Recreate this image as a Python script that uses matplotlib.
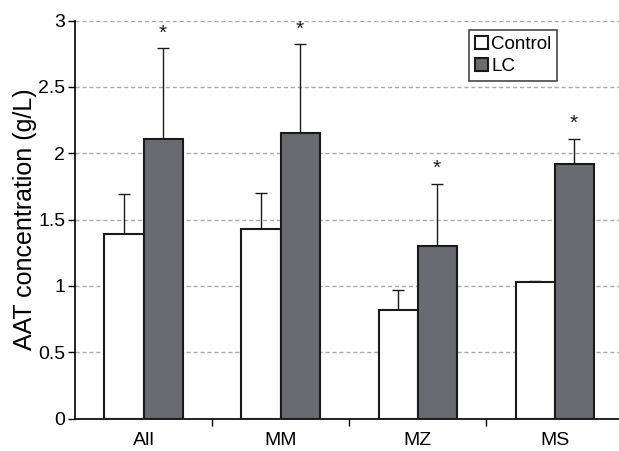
import matplotlib
matplotlib.use('Agg')
import matplotlib.pyplot as plt
import numpy as np

plt.rcParams['font.family'] = ['Liberation Sans', 'DejaVu Sans']

groups = ['All', 'MM', 'MZ', 'MS']
control = [1.39, 1.43, 0.82, 1.03]
control_err = [0.30, 0.27, 0.15, 0.005]
lc = [2.11, 2.15, 1.30, 1.92]
lc_err = [0.68, 0.67, 0.47, 0.19]
star_labels = ['*', '*', '*', '*']

fig = plt.figure(figsize=(6.19, 4.51), dpi=100)
ax = fig.add_axes([75 / 619, 32.5 / 451, 544 / 619, 398 / 451])

x = np.arange(len(groups))
width = 0.285

ax.bar(x - width / 2, control, width, color='white', edgecolor='#1a1a1a', linewidth=1.5,
       label='Control', zorder=3)
ax.bar(x + width / 2, lc, width, color='#6a6b70', edgecolor='#1a1a1a', linewidth=1.5,
       label='LC', zorder=3)
ax.errorbar(x - width / 2, control, yerr=[np.zeros(4), control_err], fmt='none',
            ecolor='#1a1a1a', elinewidth=1, capsize=4, capthick=1, zorder=2)
ax.errorbar(x + width / 2, lc, yerr=[np.zeros(4), lc_err], fmt='none',
            ecolor='#1a1a1a', elinewidth=1, capsize=4, capthick=1, zorder=2)

for i in range(len(groups)):
    ax.annotate(star_labels[i], (x[i] + width / 2, lc[i] + lc_err[i]), xytext=(0, 4),
                textcoords='offset points', ha='center', va='bottom', fontsize=15,
                color='#1a1a1a')

ax.set_xlim(-0.5, 3.47)
ax.set_ylim(0, 3)
ax.set_yticks([0, 0.5, 1, 1.5, 2, 2.5, 3])
ax.set_yticklabels(['0', '0.5', '1', '1.5', '2', '2.5', '3'])
ax.set_xticks(x)
ax.set_xticklabels(groups)
ax.set_xticks([0.5, 1.5, 2.5], minor=True)
ax.tick_params(axis='x', which='major', length=0, labelsize=14, pad=10)
ax.tick_params(axis='x', which='minor', length=5, width=1, direction='out')
ax.tick_params(axis='y', length=5, width=1, labelsize=14, pad=2)

ax.spines['top'].set_visible(False)
ax.spines['right'].set_visible(False)
ax.spines['left'].set_linewidth(1.2)
ax.spines['bottom'].set_linewidth(1.2)

ax.grid(axis='y', color='#aaaaaa', linestyle='--', linewidth=1, dashes=(3, 2), zorder=0)
ax.set_axisbelow(True)

ax.set_ylabel('AAT concentration (g/L)', fontsize=18)
ax.yaxis.set_label_coords(-0.07, 0.5)

leg = ax.legend(loc='upper left', bbox_to_anchor=(394 / 544, 0.975), fontsize=13.5,
                frameon=True, fancybox=False, edgecolor='#1a1a1a', handlelength=0.7,
                handleheight=0.7, handletextpad=0.2, borderpad=0.3, labelspacing=0.25,
                borderaxespad=0)
leg.get_frame().set_linewidth(1.2)

fig.savefig('out.png', dpi=100)
